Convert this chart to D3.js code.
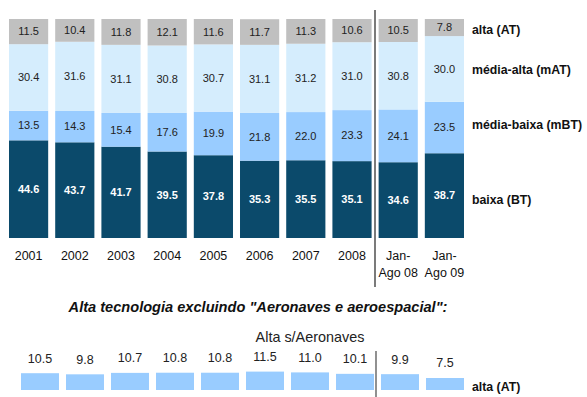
<!DOCTYPE html>
<html>
<head>
<meta charset="utf-8">
<script src="https://cdn.jsdelivr.net/npm/d3@7"></script>
<style>
  html, body { margin: 0; padding: 0; background: #fff; }
  svg { display: block; font-family: "Liberation Sans", Arial, sans-serif; }
</style>
</head>
<body>
<svg id="chart" width="587" height="397"></svg>
<script>
// Periods shown on the horizontal axis
const periods = ["2001", "2002", "2003", "2004", "2005", "2006", "2007", "2008", "Jan-\nAgo 08", "Jan-\nAgo 09"];

// Share of exports by technology intensity (%)
const baixa      = [44.6, 43.7, 41.7, 39.5, 37.8, 35.3, 35.5, 35.1, 34.6, 38.7];
const mediaBaixa = [13.5, 14.3, 15.4, 17.6, 19.9, 21.8, 22.0, 23.3, 24.1, 23.5];
const mediaAlta  = [30.4, 31.6, 31.1, 30.8, 30.7, 31.1, 31.2, 31.0, 30.8, 30.0];
const alta       = [11.5, 10.4, 11.8, 12.1, 11.6, 11.7, 11.3, 10.6, 10.5, 7.8];

// High technology excluding aircraft and aerospace (%)
const altaSemAeronaves = [10.5, 9.8, 10.7, 10.8, 10.8, 11.5, 11.0, 10.1, 9.9, 7.5];

const seriesNames = ["baixa (BT)", "média-baixa (mBT)", "média-alta (mAT)", "alta (AT)"];

const svg = d3.select("#chart");
const colors = ["#0b4a6b", "#99ccff", "#d5edfd", "#c0c0c0"];
const labelColors = ["#ffffff", "#222222", "#222222", "#222222"];

// ---------- stacked bars ----------
const table = periods.map((p, i) => ({
  period: p, s0: baixa[i], s1: mediaBaixa[i], s2: mediaAlta[i], s3: alta[i]
}));
const keys = ["s0", "s1", "s2", "s3"];
const stacked = d3.stack().keys(keys)(table);

const x = d3.scaleBand().domain(periods).range([9, 464]).paddingInner(0.152).paddingOuter(0);
const y = d3.scaleLinear().domain([0, 100]).range([238, 19]);

const layers = svg.append("g").selectAll("g").data(stacked).join("g")
  .attr("fill", (d, i) => colors[i]);

layers.selectAll("rect").data(d => d).join("rect")
  .attr("x", d => x(d.data.period))
  .attr("width", x.bandwidth())
  .attr("y", d => y(d[1]))
  .attr("height", d => y(d[0]) - y(d[1]));

stacked.forEach((layer, li) => {
  svg.append("g").selectAll("text").data(layer).join("text")
    .attr("x", d => x(d.data.period) + x.bandwidth() / 2)
    .attr("y", d => (y(d[0]) + y(d[1])) / 2)
    .attr("dy", "0.35em")
    .attr("text-anchor", "middle")
    .attr("font-size", 11)
    .attr("font-weight", li === 0 ? "bold" : "normal")
    .attr("fill", labelColors[li])
    .text(d => d.data[layer.key].toFixed(1));
});

// legend labels at the right of the last bar
const legendY = [200, 125, 70, 30];
svg.append("g").selectAll("text").data(seriesNames).join("text")
  .attr("x", 472)
  .attr("y", (d, i) => legendY[i])
  .attr("dy", "0.35em")
  .attr("font-size", 12.3)
  .attr("font-weight", "bold")
  .attr("fill", "#111")
  .text(d => d);

// period axis
const xAxis = svg.append("g")
  .attr("transform", "translate(0,249)")
  .call(d3.axisBottom(x).tickSize(0).tickPadding(0));
xAxis.select(".domain").remove();
xAxis.selectAll("text")
  .attr("font-size", 12.5)
  .attr("font-family", "Liberation Sans, Arial, sans-serif")
  .attr("fill", "#111")
  .attr("y", 0)
  .attr("dy", null)
  .each(function(d) {
    const t = d3.select(this);
    const lines = d.split("\n");
    t.text(null);
    lines.forEach((line, k) => {
      t.append("tspan").attr("x", 0).attr("y", 11 + k * 16.5).text(line);
    });
  });

// separator between full years and partial year
svg.append("line")
  .attr("x1", 375).attr("x2", 375)
  .attr("y1", 10).attr("y2", 287)
  .attr("stroke", "#333").attr("stroke-width", 1.3);

// ---------- high tech without aircraft ----------
svg.append("text")
  .attr("x", 258).attr("y", 307)
  .attr("dy", "0.35em")
  .attr("text-anchor", "middle")
  .attr("font-size", 14.6)
  .attr("font-weight", "bold")
  .attr("font-style", "italic")
  .attr("fill", "#111")
  .text("Alta tecnologia excluindo \"Aeronaves e aeroespacial\":");

svg.append("text")
  .attr("x", 310).attr("y", 337)
  .attr("dy", "0.35em")
  .attr("text-anchor", "middle")
  .attr("font-size", 14.4)
  .attr("fill", "#222")
  .text("Alta s/Aeronaves");

const x2 = d3.scaleBand().domain(periods).range([21, 464]).paddingInner(0.156).paddingOuter(0);
const y2 = d3.scaleLinear().domain([0, 12]).range([390, 390 - 19.2]);

svg.append("g").selectAll("rect").data(altaSemAeronaves).join("rect")
  .attr("x", (d, i) => x2(periods[i]))
  .attr("width", x2.bandwidth())
  .attr("y", d => y2(d))
  .attr("height", d => y2(0) - y2(d))
  .attr("fill", "#99ccff");

svg.append("g").selectAll("text").data(altaSemAeronaves).join("text")
  .attr("x", (d, i) => x2(periods[i]) + x2.bandwidth() / 2)
  .attr("y", d => y2(d) - 15)
  .attr("dy", "0.35em")
  .attr("text-anchor", "middle")
  .attr("font-size", 12.5)
  .attr("fill", "#222")
  .text(d => d.toFixed(1));

svg.append("text")
  .attr("x", 472).attr("y", 387)
  .attr("dy", "0.35em")
  .attr("font-size", 12.3)
  .attr("font-weight", "bold")
  .attr("fill", "#111")
  .text("alta (AT)");

svg.append("line")
  .attr("x1", 376).attr("x2", 376)
  .attr("y1", 351).attr("y2", 397)
  .attr("stroke", "#555").attr("stroke-width", 1.3);
</script>
</body>
</html>
